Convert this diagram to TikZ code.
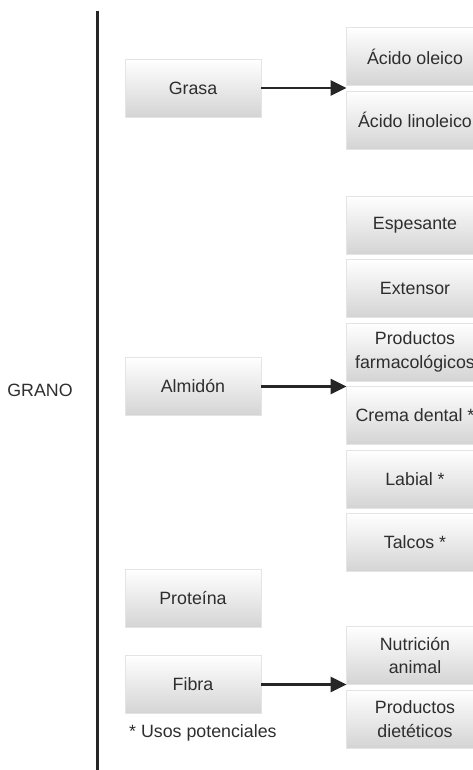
\documentclass[tikz,border=0pt]{standalone}
\usepackage{fontspec}
\setmainfont{Liberation Sans}
\usetikzlibrary{arrows.meta}
\definecolor{txt}{HTML}{2E2E2E}
\definecolor{edge}{HTML}{E4E4E4}
\definecolor{shadeb}{HTML}{D4D4D4}
\begin{document}
\begin{tikzpicture}[x=1pt,y=-1pt,
  box/.style={draw=edge,line width=0.8pt,top color=white,bottom color=shadeb,
    minimum width=136pt,minimum height=58pt,inner sep=0pt,align=center,
    text=txt,font=\fontsize{17.8}{23.5}\selectfont},
  rbox/.style={box,minimum width=138pt},
  conn/.style={draw=black!85,line width=2.8pt,-{Triangle[length=16pt,width=15pt]},shorten >=-1pt},
  lbl/.style={text=txt,font=\fontsize{17.8}{21}\selectfont,inner sep=0pt}]
\useasboundingbox (0,0) rectangle (473,770);
\begin{scope}
\clip (0,0) rectangle (473,770);
% vertical line
\coordinate (vtop) at (97.5,11);
\coordinate (vbot) at (97.5,771);
\draw[black!85,line width=2.2pt] (vtop) -- (vbot);
\node[lbl] (grano) at (40,390) {GRANO};
% left boxes
\node[box] (grasa) at (193,88) {Grasa};
\node[box] (almidon) at (193,386.5) {Almidón};
\node[box] (proteina) at (193,598.5) {Proteína};
\node[box] (fibra) at (193,684.5) {Fibra};
\node[lbl,anchor=west] (usos) at (129,733) {* Usos potenciales};
% right boxes
\node[rbox] (oleico) at (415,56.5) {Ácido oleico};
\node[rbox] (linoleico) at (415,120) {Ácido linoleico};
\node[rbox] (espesante) at (415,225) {Espesante};
\node[rbox] (extensor) at (415,288) {Extensor};
\node[rbox] (farma) at (415,352) {Productos\\farmacológicos};
\node[rbox] (crema) at (415,415) {Crema dental *};
\node[rbox] (labial) at (415,479) {Labial *};
\node[rbox] (talcos) at (415,542.5) {Talcos *};
\node[rbox] (nutricion) at (415,655.5) {Nutrición\\animal};
\node[rbox] (dieteticos) at (415,719) {Productos\\dietéticos};
% arrows
\coordinate (t1) at (oleico.south west |- grasa.east);
\draw[conn] (grasa.east) -- (t1);
\coordinate (t2) at (farma.south west |- almidon.east);
\draw[conn] (almidon.east) -- (t2);
\coordinate (t3) at (nutricion.south west |- fibra.east);
\draw[conn] (fibra.east) -- (t3);
\end{scope}
\end{tikzpicture}
\end{document}
